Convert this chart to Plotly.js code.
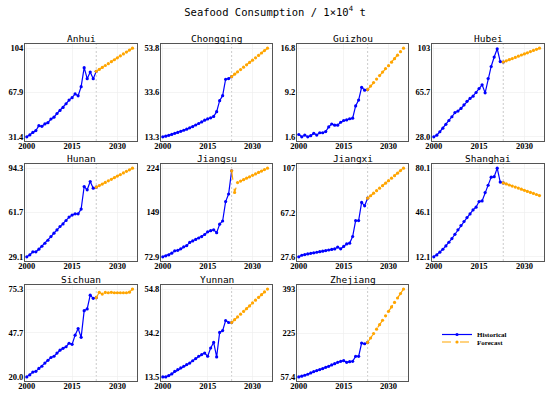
<!DOCTYPE html>
<html>
<head>
<meta charset="utf-8">
<script src="https://cdn.plot.ly/plotly-3.0.1.min.js"></script>
<style>html,body{margin:0;padding:0;background:#fff;}#chart{width:550px;height:396px;}</style>
</head>
<body>
<div id="chart"></div>
<script>
// ---------- data ----------
const provinces = ["Anhui","Chongqing","Guizhou","Hubei","Hunan","Jiangsu","Jiangxi","Shanghai","Sichuan","Yunnan","Zhejiang"];
const histYears = [2000,2001,2002,2003,2004,2005,2006,2007,2008,2009,2010,2011,2012,2013,2014,2015,2016,2017,2018,2019,2020,2021,2022,2023];
const foreYears = [2023,2024,2025,2026,2027,2028,2029,2030,2031,2032,2033,2034,2035];
const splitYear = [2023];
const xTicks = [2000,2015,2030];

const anhuiHist = [31.4,33.0,35.0,36.5,40.5,40.0,42.0,43.0,46.0,47.5,50.5,53.0,55.5,58.5,61.5,63.5,66.5,65.0,72.5,88.0,79.0,84.5,79.0,85.0];
const anhuiFore = [85.0,86.6,88.2,89.8,91.3,92.9,94.5,96.1,97.7,99.3,100.8,102.4,104.0];
const chongqingHist = [13.3,13.6,14.0,14.4,14.9,15.3,15.8,16.3,16.8,17.4,18.0,18.7,19.4,20.1,20.9,21.5,22.0,22.6,24.8,29.8,32.1,39.6,39.9,40.8];
const chongqingFore = [40.8,41.9,43.0,44.0,45.1,46.2,47.3,48.3,49.4,50.5,51.6,52.7,53.8];
const guizhouHist = [2.0,1.6,1.9,1.6,1.8,2.2,1.9,2.3,2.3,2.5,3.3,3.8,3.6,3.6,4.1,4.4,4.5,4.7,4.8,6.9,7.9,10.1,9.6,9.7];
const guizhouFore = [9.7,10.3,10.9,11.5,12.1,12.7,13.3,13.8,14.4,15.0,15.6,16.2,16.8];
const hubeiHist = [28.0,29.4,32.3,35.3,38.6,41.8,45.0,48.5,49.8,52.0,55.0,58.0,60.5,62.4,65.5,68.8,72.0,65.2,77.3,87.5,95.5,102.5,91.7,91.3];
const hubeiFore = [91.3,92.3,93.3,94.2,95.2,96.2,97.2,98.1,99.1,100.1,101.1,102.0,103.0];
const hunanHist = [29.1,30.6,32.8,32.8,34.7,36.9,39.1,41.3,44.0,46.5,48.9,51.4,53.3,55.8,58.3,59.8,60.7,60.7,64.2,80.8,78.4,84.5,79.6,80.3];
const hunanFore = [80.3,81.5,82.6,83.8,85.0,86.1,87.3,88.5,89.6,90.8,92.0,93.1,94.3];
const jiangsuHist = [72.9,74.6,76.3,79.2,83.1,84.0,86.5,90.0,92.0,97.5,100.0,102.5,105.0,107.5,111.0,115.5,117.5,119.0,114.0,128.5,134.0,167.0,180.0,219.5];
const jiangsuFore = [219.5,182.5,199.5,202.0,204.4,206.9,209.3,211.8,214.2,216.7,219.1,221.6,224.0];
const jiangxiHist = [27.6,29.0,29.6,30.2,30.7,31.2,31.7,32.2,32.7,33.2,33.7,34.2,34.7,36.3,34.8,36.9,39.2,39.8,45.8,60.1,60.1,76.3,73.3,80.1];
const jiangxiFore = [80.1,82.3,84.6,86.8,89.1,91.3,93.6,95.8,98.0,100.3,102.5,104.8,107.0];
const shanghaiHist = [12.1,13.6,15.7,17.9,20.5,23.3,26.1,29.4,32.8,36.1,39.2,42.2,45.0,48.1,50.2,54.5,55.0,61.4,67.0,73.2,73.6,80.1,69.4,68.8];
const shanghaiFore = [68.8,68.0,67.2,66.4,65.6,64.8,64.0,63.1,62.3,61.5,60.7,59.9,59.1];
const sichuanHist = [20.0,21.3,23.0,23.5,25.3,26.7,28.7,30.4,32.2,33.0,35.0,36.8,38.0,39.0,41.2,40.5,46.3,50.5,44.9,61.7,62.8,71.5,69.5,69.9];
const sichuanFore = [69.9,73.3,72.2,73.2,73.0,73.3,73.0,73.0,73.0,73.0,73.0,73.4,75.3];
const yunnanHist = [13.5,13.5,14.1,14.9,16.1,16.9,17.7,18.5,19.3,20.0,21.1,22.1,23.2,24.0,24.7,23.2,27.1,29.7,22.9,34.4,35.3,40.0,39.1,39.1];
const yunnanFore = [39.1,40.4,41.7,43.0,44.3,45.6,46.9,48.3,49.6,50.9,52.2,53.5,54.8];
const zhejiangHist = [57.4,60.0,63.7,67.5,72.6,77.7,81.5,85.3,89.1,94.1,97.9,103.0,108.0,113.0,117.0,119.5,113.0,115.6,117.0,136.0,136.0,186.6,184.0,189.0];
const zhejiangFore = [189,206,223,240,257,274,291,308,325,342,359,376,393];

const yTickLabels = [
  ["31.4","67.9","104"],
  ["13.3","33.6","53.8"],
  ["1.6","9.2","16.8"],
  ["28.0","65.7","103"],
  ["29.1","61.7","94.3"],
  ["72.9","149","224"],
  ["27.6","67.2","107"],
  ["12.1","46.1","80.1"],
  ["20.0","47.7","75.3"],
  ["13.5","34.2","54.8"],
  ["57.4","225","393"]
];

const histSeries = [anhuiHist,chongqingHist,guizhouHist,hubeiHist,hunanHist,jiangsuHist,jiangxiHist,shanghaiHist,sichuanHist,yunnanHist,zhejiangHist];
const foreSeries = [anhuiFore,chongqingFore,guizhouFore,hubeiFore,hunanFore,jiangsuFore,jiangxiFore,shanghaiFore,sichuanFore,yunnanFore,zhejiangFore];
const seriesNames = ["Historical","Forecast"];

// ---------- layout geometry (pixels) ----------
const W = 550, H = 396;
const colPx = [[25,137],[161,272],[297,408],[432,544]];
const rowPx = [[44,141],[164,261],[285,381]];

const traces = [];
const layout = {
  width: W, height: H,
  margin: {l:0, r:0, t:0, b:0},
  paper_bgcolor: '#ffffff',
  plot_bgcolor: '#ffffff',
  showlegend: true,
  shapes: [],
  annotations: [],
  title: {
    text: 'Seafood Consumption / 1×10<sup>4</sup> t',
    font: {family: 'DejaVu Sans Mono', size: 10.5, color: '#000'},
    x: 0.5, xanchor: 'center', xref: 'paper',
    y: 1 - 12/H, yanchor: 'middle', yref: 'paper'
  },
  legend: {
    x: 437/W, y: 1 - 320/H, xanchor: 'left', yanchor: 'top',
    bgcolor: 'rgba(0,0,0,0)', borderwidth: 0,
    font: {family: 'Liberation Serif', size: 7, weight: 'bold', color: '#000'}
  },
  legend2: {
    x: 437/W, y: 1 - 327.5/H, xanchor: 'left', yanchor: 'top',
    bgcolor: 'rgba(0,0,0,0)', borderwidth: 0,
    font: {family: 'Liberation Serif', size: 7, weight: 'bold', color: '#000'}
  }
};

const tickFont = {family: 'Liberation Serif', size: 8.5, weight: 'bold', color: '#000'};

provinces.forEach((name, i) => {
  const r = Math.floor(i / 4), c = i % 4;
  const n = i + 1;
  const xa = 'xaxis' + (i === 0 ? '' : n);
  const ya = 'yaxis' + (i === 0 ? '' : n);
  const xr = 'x' + (i === 0 ? '' : n);
  const yr = 'y' + (i === 0 ? '' : n);
  const tv = yTickLabels[i].map(parseFloat);
  const lo = tv[0], hi = tv[2], pad = (hi - lo) * 0.047;

  layout[xa] = {
    domain: [colPx[c][0]/W, colPx[c][1]/W],
    anchor: yr,
    range: [1999.4, 2036.5],
    tickvals: xTicks, ticktext: xTicks.map(String),
    tickfont: tickFont,
    ticklabelstandoff: -3,
    showline: true, mirror: true, linecolor: '#555', linewidth: 1,
    showgrid: true, gridcolor: '#ececec', gridwidth: 0.6,
    zeroline: false, ticks: '', ticklen: 0
  };
  layout[ya] = {
    domain: [1 - rowPx[r][1]/H, 1 - rowPx[r][0]/H],
    anchor: xr,
    range: [lo - pad, hi + pad],
    tickvals: tv, ticktext: yTickLabels[i],
    tickfont: tickFont,
    ticklabelstandoff: -1,
    showline: true, mirror: true, linecolor: '#555', linewidth: 1,
    showgrid: true, gridcolor: '#ececec', gridwidth: 0.6,
    zeroline: false, ticks: '', ticklen: 0
  };

  traces.push({
    type: 'scatter', mode: 'lines+markers',
    x: histYears, y: histSeries[i],
    xaxis: xr, yaxis: yr,
    name: seriesNames[0], legend: 'legend',
    showlegend: i === 0,
    line: {color: '#0000ff', width: 1.2},
    marker: {color: '#0000ff', size: 3.2, symbol: 'circle'}
  });
  traces.push({
    type: 'scatter', mode: 'lines+markers',
    x: foreYears, y: foreSeries[i],
    xaxis: xr, yaxis: yr,
    name: seriesNames[1], legend: 'legend2',
    showlegend: i === 0,
    line: {color: '#ffa500', width: 1.2, dash: 'dash'},
    marker: {color: '#ffa500', size: 3.2, symbol: 'circle'}
  });

  layout.shapes.push({
    type: 'line', xref: xr, yref: yr + ' domain',
    x0: splitYear[0], x1: splitYear[0], y0: 0, y1: 1,
    line: {color: '#b4b4b4', width: 0.7, dash: '2px,2px'},
    layer: 'below'
  });

  layout.annotations.push({
    text: name, showarrow: false,
    xref: 'paper', yref: 'paper',
    x: (colPx[c][0] + colPx[c][1]) / 2 / W,
    y: 1 - rowPx[r][0]/H, yanchor: 'bottom', xanchor: 'center',
    yshift: -1, borderpad: 0,
    font: {family: 'DejaVu Sans Mono', size: 9.5, color: '#000'}
  });
});

Plotly.newPlot('chart', traces, layout, {displayModeBar: false, staticPlot: true});
</script>
</body>
</html>
